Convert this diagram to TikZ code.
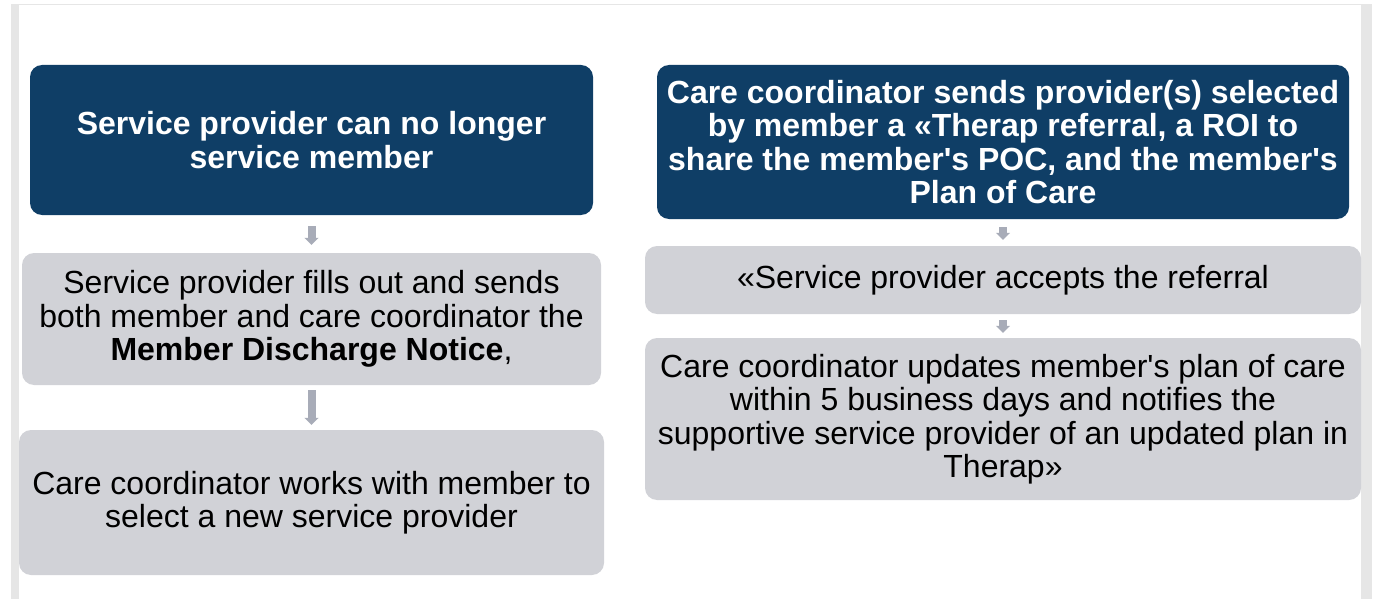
\documentclass[tikz,border=0pt]{standalone}
\usepackage{fontspec}
\setmainfont{Liberation Sans}[Ligatures=TeXOff]
\usetikzlibrary{arrows.meta}
\definecolor{darkblue}{HTML}{0F3E66}
\definecolor{boxgray}{HTML}{D1D2D7}
\definecolor{arrowgray}{HTML}{A8ACB8}
\definecolor{framegray}{HTML}{E6E6E6}
\begin{document}
\begin{tikzpicture}
          [x=1pt,y=-1pt,
           every node/.style={inner sep=0pt, align=center, rounded corners=12pt,
             font=\fontsize{32}{33.5}\selectfont},
           headbox/.style={fill=darkblue, text=white, font=\fontsize{32}{33.5}\selectfont\bfseries},
           stepbox/.style={fill=boxgray, text=black},
           flowarrow/.style={arrowgray, line width=8pt, -{Triangle[width=14pt,length=7pt]}}]
        \useasboundingbox (0,0) rectangle (1377,599);
        \fill[framegray] (11,4) rectangle (19,599);
        \fill[framegray] (1361,4) rectangle (1372,599);
        \fill[framegray] (19,4) rectangle (1361,5.5);

        \node[headbox, minimum width=563pt, minimum height=150pt] (l1) at (311.5,140)
          {Service provider can no longer\\service member};
        \node[stepbox, minimum width=579pt, minimum height=132pt] (l2) at (311.5,319)
          {Service provider fills out and sends\\both member and care coordinator the\\\textbf{Member Discharge Notice},};
        \node[stepbox, minimum width=585pt, minimum height=145pt] (l3) at (311.5,502.5)
          {Care coordinator works with member to\\select a new service provider};

        \node[headbox, minimum width=692pt, minimum height=154pt] (r1) at (1003,142)
          {Care coordinator sends provider(s) selected\\by member a «Therap referral, a ROI to\\share the member's POC, and the member's\\Plan of Care};
        \node[stepbox, minimum width=716pt, minimum height=68pt] (r2) at (1003,280)
          {«Service provider accepts the referral};
        \node[stepbox, minimum width=716pt, minimum height=162pt] (r3) at (1003,419)
          {Care coordinator updates member's plan of care\\within 5 business days and notifies the\\supportive service provider of an updated plan in\\Therap»};

        \foreach \from/\to/\a/\b in {l1/l2/11/8, l2/l3/5/5, r1/r2/8/6, r2/r3/6/5}
          \draw[flowarrow, shorten <=\a pt, shorten >=\b pt] (\from) -- (\to);
      \end{tikzpicture}
\end{document}
